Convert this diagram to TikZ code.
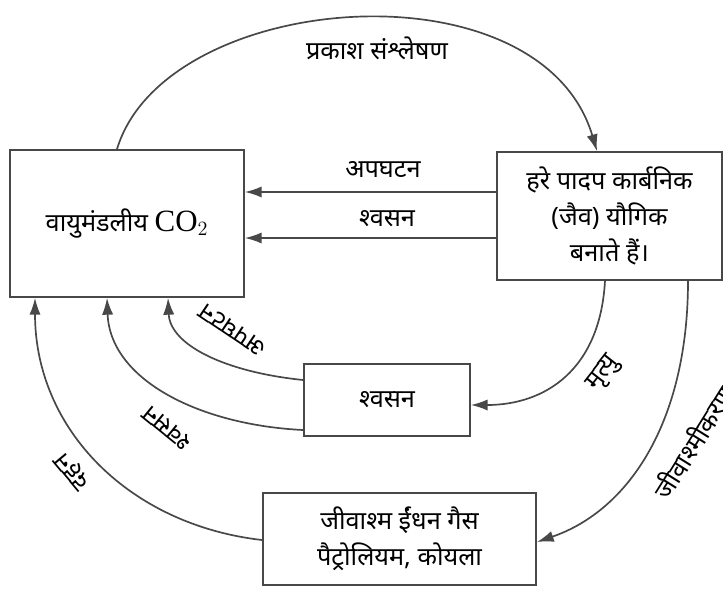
\documentclass[tikz,border=0pt]{standalone}
\usepackage{fontspec}
\setmainfont{Liberation Serif}
\newfontfamily\hindi[Script=Devanagari]{Noto Sans}
\usepackage{tikz}
\usetikzlibrary{arrows.meta}
\definecolor{linegray}{HTML}{484848}

\begin{document}
\begin{tikzpicture}[x=0.025cm, y=-0.025cm,
    box/.style={draw=linegray, line width=1.2pt, align=center, inner sep=0pt,
                font=\hindi\fontsize{18}{25.5}\selectfont},
    flow/.style={draw=linegray, line width=1.2pt, -{Latex[length=0.42cm, width=0.28cm]}},
    lbl/.style={font=\hindi\fontsize{18}{20}\selectfont, inner sep=0pt}]
  \useasboundingbox (0,0) rectangle (723,588);

  % boxes
  \node[box, minimum width=5.85cm, minimum height=3.675cm] (co2) at (127,223.5)
       {वायुमंडलीय {\rmfamily\fontsize{22}{24}\selectfont CO$_2$}};
  \node[box, minimum width=5.625cm, minimum height=3.2cm] (plants) at (609.5,216)
       {हरे पादप कार्बनिक\\(जैव) यौगिक\\बनाते हैं।};
  \node[box, minimum width=4.15cm, minimum height=1.8cm] (resp) at (387,400) {श्वसन};
  \node[box, minimum width=6.825cm, minimum height=2.3cm] (fossil) at (399.5,539)
       {जीवाश्म ईंधन गैस\\पैट्रोलियम, कोयला};

  % top arc
  \draw[flow] (co2.north -| 117,0) .. controls (165,-10) and (540,-40) .. (plants.north -| 597,0);
  \node[lbl] (photo) at (377,48) {प्रकाश संश्लेषण};

  % straight arrows
  \draw[flow] (plants.west |- 0,192) -- (co2.east |- 0,192);
  \node[lbl] (decomp) at (383,169) {अपघटन};
  \draw[flow] (plants.west |- 0,238) -- (co2.east |- 0,238);
  \node[lbl] (respA) at (387,219) {श्वसन};

  % arcs back to CO2
  \draw[flow] (resp.west |- 0,380) .. controls (225,372) and (170,345) .. (co2.south -| 168,0);
  \draw[flow] (resp.west |- 0,430) .. controls (200,425) and (110,380) .. (co2.south -| 107,0);
  \draw[flow] (fossil.west |- 0,540) .. controls (130,525) and (35,430) .. (co2.south -| 35,0);
  \node[lbl, rotate=146] (decompB) at (233,330) {अपघटन};
  \node[lbl, rotate=141] (respB) at (167,428) {श्वसन};
  \node[lbl, rotate=130] (burn) at (73,471) {दहन};

  % arcs down from plants
  \draw[flow] (plants.south -| 605,0) .. controls (600,370) and (545,405) .. (resp.east |- 0,405);
  \draw[flow] (plants.south -| 688,0) .. controls (688,420) and (630,510) .. (fossil.east |- 0,542);
  \node[lbl, rotate=52] (death) at (604,374) {मृत्यु};
  \node[lbl, rotate=58] (fossilize) at (693,442) {जीवाश्मीकरण};
\end{tikzpicture}
\end{document}
